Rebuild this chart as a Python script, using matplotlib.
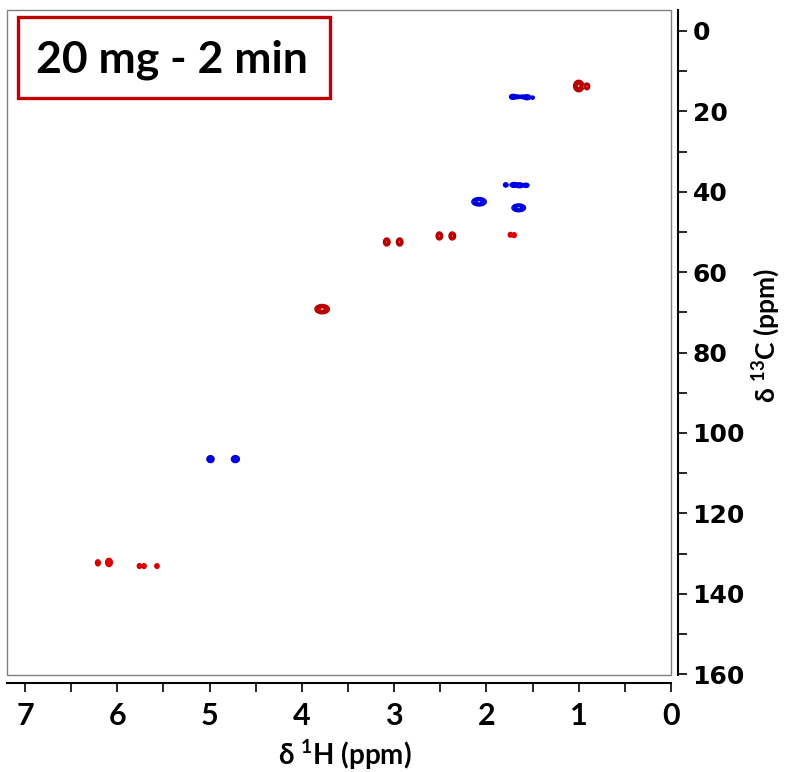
import numpy as np
import matplotlib
matplotlib.use("Agg")
import matplotlib.pyplot as plt
from matplotlib.patches import Rectangle
from matplotlib.ticker import MultipleLocator

plt.rcParams['mathtext.fontset'] = 'custom'
plt.rcParams['mathtext.bf'] = 'Lato:bold'
plt.rcParams['mathtext.rm'] = 'Lato:bold'
plt.rcParams['mathtext.default'] = 'bf'

# ---- data: HSQC cross peaks (1H ppm, 13C ppm, width 1H, width 13C, relative intensity)
dark_red_h = [1.00, 0.91, 3.78, 3.08, 2.94, 2.51, 2.37]
dark_red_c = [13.7, 13.8, 69.2, 52.5, 52.5, 51.0, 51.0]
dark_red_wh = [0.024, 0.014, 0.034, 0.016, 0.016, 0.016, 0.016]
dark_red_wc = [0.62, 0.40, 0.5, 0.45, 0.45, 0.45, 0.45]
dark_red_i = [1.0, 0.6, 1.0, 0.8, 0.8, 0.8, 0.8]

red_h = [6.21, 6.09, 1.74, 1.70, 5.76, 5.71, 5.57]
red_c = [132.3, 132.2, 50.7, 50.8, 133.1, 133.1, 133.1]
red_wh = [0.012, 0.016, 0.011, 0.011, 0.011, 0.011, 0.011]
red_wc = [0.35, 0.45, 0.28, 0.28, 0.28, 0.28, 0.28]
red_i = [0.7, 0.9, 0.6, 0.6, 0.6, 0.6, 0.6]

blue_h = [2.08, 1.65, 4.99, 4.72, 1.79, 1.70, 1.64, 1.57, 1.71, 1.66, 1.61, 1.56, 1.50]
blue_c = [42.5, 44.0, 106.5, 106.5, 38.3, 38.3, 38.4, 38.4, 16.4, 16.4, 16.4, 16.5, 16.6]
blue_wh = [0.034, 0.032, 0.017, 0.019, 0.012, 0.02, 0.02, 0.015, 0.018, 0.015, 0.015, 0.018, 0.01]
blue_wc = [0.45, 0.42, 0.38, 0.38, 0.25, 0.27, 0.27, 0.25, 0.28, 0.22, 0.22, 0.28, 0.2]
blue_i = [1.0, 1.0, 0.9, 0.9, 0.6, 0.8, 0.8, 0.6, 0.8, 0.5, 0.5, 0.8, 0.4]

x_ticks = [7, 6, 5, 4, 3, 2, 1, 0]
y_ticks = [0, 20, 40, 60, 80, 100, 120, 140, 160]
title_text = "20 mg - 2 min"

# ---- grid
xg = np.arange(0.0, 7.2, 0.004)
yg = np.arange(-5.0, 160.0, 0.08)


def spectrum(hs, cs, whs, wcs, amps):
    z = np.zeros((yg.size, xg.size))
    for h, c, wh, wc, a in zip(hs, cs, whs, wcs, amps):
        gx = np.exp(-0.5 * ((xg - h) / wh) ** 2)
        gy = np.exp(-0.5 * ((yg - c) / wc) ** 2)
        z += a * np.outer(gy, gx)
    return z


levels = [0.07, 0.15, 0.27, 0.42, 0.6, 0.8]

fig = plt.figure(figsize=(7.85, 7.72), dpi=100)
ax = fig.add_axes([7 / 785, 1 - 675 / 772, 664 / 785, 665 / 772])

for hs, cs, wh, wc, am, col in [
    (dark_red_h, dark_red_c, dark_red_wh, dark_red_wc, dark_red_i, '#b80000'),
    (red_h, red_c, red_wh, red_wc, red_i, '#dd0000'),
    (blue_h, blue_c, blue_wh, blue_wc, blue_i, '#0000e0'),
]:
    ax.contour(xg, yg, spectrum(hs, cs, wh, wc, am), levels=levels,
               colors=col, linewidths=1.0)

ax.set_xlim(7.195, 0)
ax.set_ylim(160.2, -5.2)

# frame
for s in ['top', 'left']:
    ax.spines[s].set_visible(False)
ax.add_patch(Rectangle((0, 0), 1, 1, transform=ax.transAxes, fill=False,
                       edgecolor='#808080', linewidth=1.0, clip_on=False, zorder=5))

ax.spines['right'].set_position(('outward', 5.0))
ax.spines['bottom'].set_position(('outward', 5.8))
ax.spines['right'].set_linewidth(1.5)
ax.spines['bottom'].set_linewidth(1.5)

ax.yaxis.tick_right()
ax.yaxis.set_label_position('right')
ax.set_xticks(x_ticks)
ax.set_yticks(y_ticks)
ax.xaxis.set_minor_locator(MultipleLocator(0.5))
ax.yaxis.set_minor_locator(MultipleLocator(10))
ax.tick_params(axis='both', which='both', direction='out', width=1.2, color='black')
ax.tick_params(axis='both', which='major', length=6.5)
ax.tick_params(axis='both', which='minor', length=6.5)
ax.tick_params(axis='x', pad=7)
ax.tick_params(axis='y', pad=4)

for lab in ax.get_xticklabels():
    lab.set_fontfamily('Lato')
    lab.set_fontweight('bold')
    lab.set_fontsize(22)
for lab in ax.get_yticklabels():
    lab.set_fontfamily('DejaVu Sans')
    lab.set_fontweight('bold')
    lab.set_fontsize(18)

fig.text(345 / 785, 1 - 755 / 772, r"δ $\mathregular{^{1}}$H (ppm)", ha='center', va='center',
         fontsize=20, fontweight='bold', family='Lato')
fig.text(766 / 785, 1 - 335 / 772, r"δ $\mathregular{^{13}}$C (ppm)", ha='center', va='center',
         fontsize=19, fontweight='bold', family='Lato', rotation=90)

# title box
fig.patches.append(Rectangle((18 / 785, 1 - 98 / 772), 312 / 785, 81 / 772,
                             transform=fig.transFigure, fill=True, facecolor='white',
                             edgecolor='#c00000', linewidth=2.4, zorder=10))
fig.text(172 / 785, 1 - 60 / 772, title_text, ha='center', va='center',
         fontsize=32, fontweight='bold', family='Lato', zorder=11)

fig.savefig('out.png', dpi=100)
